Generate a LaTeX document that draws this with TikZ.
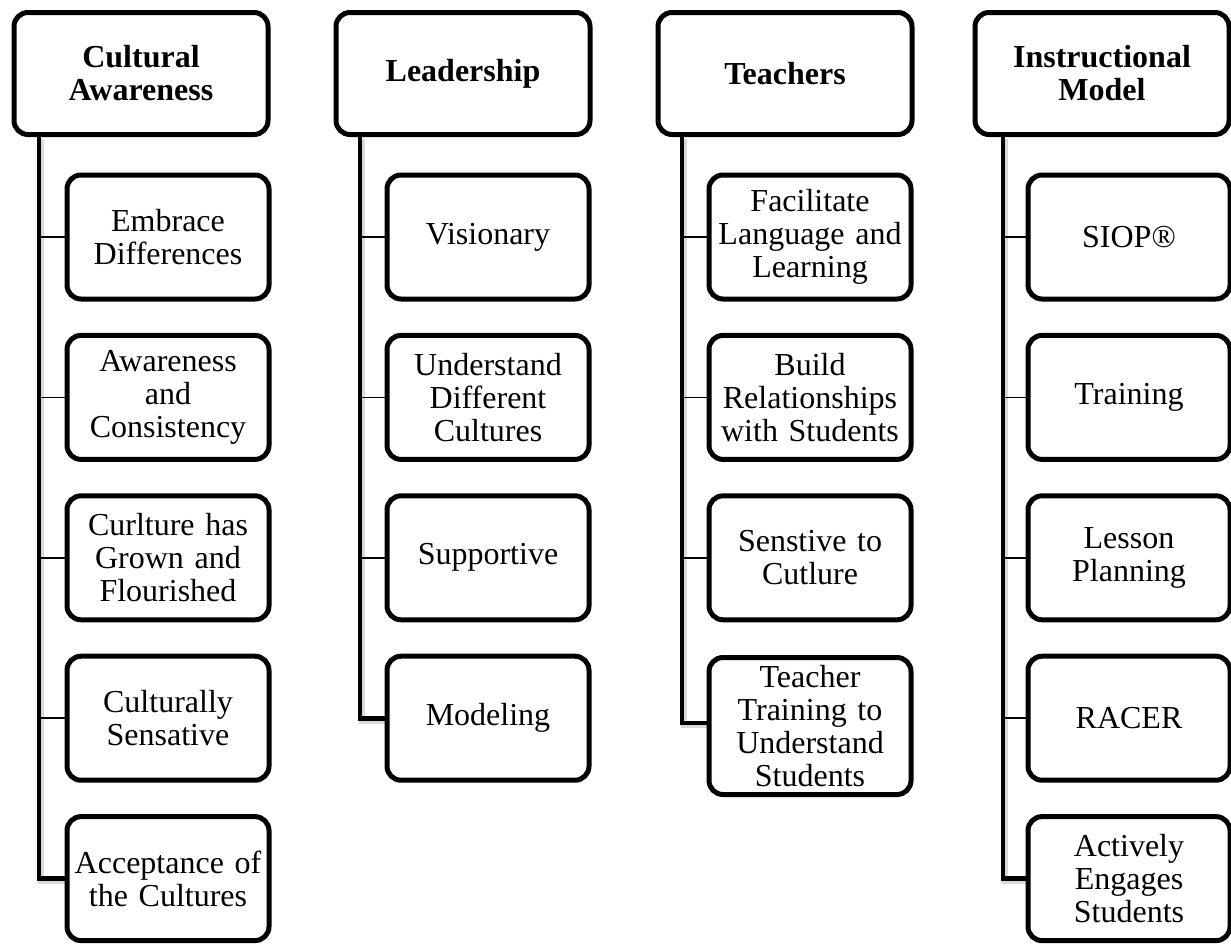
\documentclass[tikz,border=0pt]{standalone}
\usepackage{fontspec}
\setmainfont{Liberation Serif}
\usepackage{tikz}

\tikzset{
  headbox/.style = {draw, line width=2.5pt, rounded corners=7pt, fill=white,
    minimum width=127pt, minimum height=61pt, text width=120pt, align=center,
    inner sep=2pt, font=\fontsize{16}{16.5}\selectfont\bfseries},
  itembox/.style = {draw, line width=2.5pt, rounded corners=7pt, fill=white,
    minimum width=101pt, minimum height=62pt, text width=96pt, align=center,
    inner sep=2pt, font=\fontsize{16}{16.5}\selectfont},
  tick/.style = {line width=0.8pt},
  trunk/.style = {line width=2.4pt,
    preaction={draw=black!15, line width=3pt,
      transform canvas={shift={(1.2pt,-1.2pt)}}}}
}

\begin{document}
\begin{tikzpicture}[x=0.5pt, y=-0.5pt]
        \useasboundingbox (0,0) rectangle (1231,943);

        % Cultural Awareness
        \coordinate (ta) at (39,137);
        \draw[trunk] (ta) |- (168,878.6);
        \node[headbox] (ha) at (141,73.5) {Cultural\\Awareness};
        \node[itembox] (ca1) at (168,237) {Embrace\\Differences};
        \node[itembox] (ca2) at (168,397.4) {Awareness\\and\\Consistency};
        \node[itembox] (ca3) at (168,557.8) {Curlture has\\Grown and\\Flourished};
        \node[itembox] (ca4) at (168,718.2) {Culturally\\Sensative};
        \node[itembox] (ca5) at (168,878.6) {Acceptance of\\the Cultures};
        \draw[tick] (ca1.west) -- (ca1.west -| ta);
        \draw[tick] (ca2.west) -- (ca2.west -| ta);
        \draw[tick] (ca3.west) -- (ca3.west -| ta);
        \draw[tick] (ca4.west) -- (ca4.west -| ta);

        % Leadership
        \coordinate (tl) at (360,137);
        \draw[trunk] (tl) |- (488,718.2);
        \node[headbox] (hl) at (463,73.5) {Leadership};
        \node[itembox] (le1) at (488,237) {Visionary};
        \node[itembox] (le2) at (488,397.4) {Understand\\Different\\Cultures};
        \node[itembox] (le3) at (488,557.8) {Supportive};
        \node[itembox] (le4) at (488,718.2) {Modeling};
        \draw[tick] (le1.west) -- (le1.west -| tl);
        \draw[tick] (le2.west) -- (le2.west -| tl);
        \draw[tick] (le3.west) -- (le3.west -| tl);

        % Teachers
        \coordinate (tt) at (682,137);
        \draw[trunk] (tt) |- (810,723);
        \node[headbox] (ht) at (785,73.5) {Teachers};
        \node[itembox] (te1) at (810,237) {Facilitate\\Language and\\Learning};
        \node[itembox] (te2) at (810,397.4) {Build\\Relationships\\with Students};
        \node[itembox] (te3) at (810,557.8) {Senstive to\\Cutlure};
        \node[itembox, minimum height=68.5pt] (te4) at (810,726) {Teacher\\Training to\\Understand\\Students};
        \draw[tick] (te1.west) -- (te1.west -| tt);
        \draw[tick] (te2.west) -- (te2.west -| tt);
        \draw[tick] (te3.west) -- (te3.west -| tt);

        % Instructional Model
        \coordinate (ti) at (1003,137);
        \draw[trunk] (ti) |- (1129,878.6);
        \node[headbox] (hi) at (1102,73.5) {Instructional\\Model};
        \node[itembox] (im1) at (1129,237) {SIOP®};
        \node[itembox] (im2) at (1129,397.4) {Training};
        \node[itembox] (im3) at (1129,557.8) {Lesson\\Planning};
        \node[itembox] (im4) at (1129,718.2) {RACER};
        \node[itembox] (im5) at (1129,878.6) {Actively\\Engages\\Students};
        \draw[tick] (im1.west) -- (im1.west -| ti);
        \draw[tick] (im2.west) -- (im2.west -| ti);
        \draw[tick] (im3.west) -- (im3.west -| ti);
        \draw[tick] (im4.west) -- (im4.west -| ti);
      \end{tikzpicture}
\end{document}
